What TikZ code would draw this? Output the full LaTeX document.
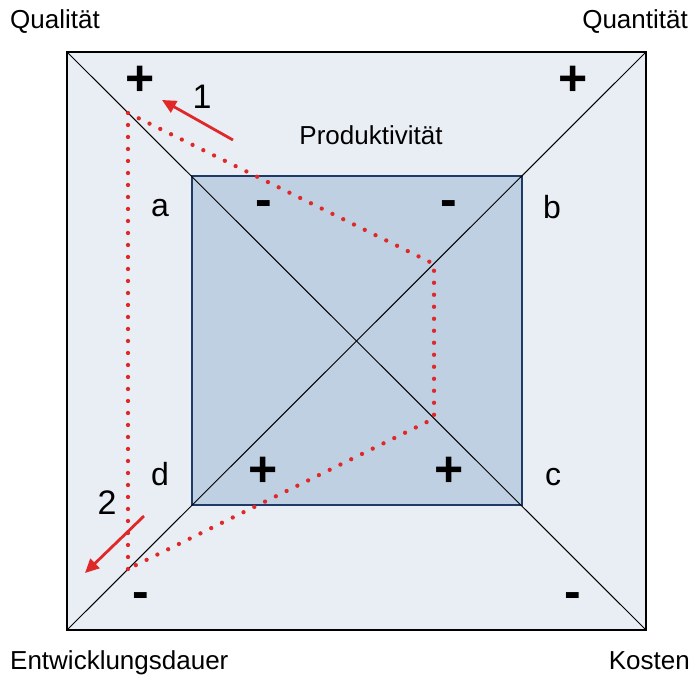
\documentclass[tikz,border=0pt]{standalone}
\usepackage{fontspec}
\setmainfont{Liberation Sans}
\usetikzlibrary{arrows.meta}
\definecolor{outerfill}{HTML}{E9EEF5}
\definecolor{innerfill}{HTML}{BFD0E2}
\definecolor{innerline}{HTML}{1F3A66}
\definecolor{redline}{HTML}{E02828}
\begin{document}
\begin{tikzpicture}[x=1pt,y=-1pt,
 lbl/.style={font=\fontsize{26}{30}\selectfont, inner sep=0pt},
 corner/.style={font=\fontsize{32}{36}\selectfont, inner sep=0pt},
 sign/.style={font=\bfseries\fontsize{50}{54}\selectfont, inner sep=0pt},
 num/.style={font=\fontsize{34}{38}\selectfont, inner sep=0pt},
 dotline/.style={draw=redline, line width=4.3pt, line cap=round, dash pattern=on 0pt off 12pt},
 redarrow/.style={draw=redline, line width=2.8pt, -{Triangle[length=14pt,width=13pt,fill=redline]}}]
\useasboundingbox (0,0) rectangle (698,677);
\fill[white] (0,0) rectangle (698,677);
% outer square corners
\coordinate (TL) at (67,52);
\coordinate (TR) at (646,52);
\coordinate (BR) at (646,630);
\coordinate (BL) at (67,630);
% inner square corners
\coordinate (ITL) at (192,176);
\coordinate (IBR) at (522,505);
\filldraw[fill=outerfill, draw=black, line width=2pt] (TL) rectangle (BR);
\filldraw[fill=innerfill, draw=innerline, line width=1.6pt] (ITL) rectangle (IBR);
\draw[line width=1pt] (TL) -- (BR);
\draw[line width=1pt] (TR) -- (BL);
% dotted path
\coordinate (P1) at (128,113);
\coordinate (P2) at (434,264);
\coordinate (P3) at (434,418.5);
\coordinate (P4) at (128,569);
\draw[dotline] (P4) -- (P1) -- (P2) -- (P3) -- cycle;
% red arrows
\coordinate (A1s) at (233,140);
\coordinate (A1e) at (162,100);
\coordinate (A2s) at (144,516);
\coordinate (A2e) at (85,573);
\draw[redarrow] (A1s) -- (A1e);
\draw[redarrow] (A2s) -- (A2e);
% labels
\node[lbl, anchor=base west] (qual) at (10,29) {Qualität};
\node[lbl, anchor=base east] (quant) at (688,29) {Quantität};
\node[lbl, anchor=base west] (entw) at (10,669) {Entwicklungsdauer};
\node[lbl, anchor=base east] (kost) at (690,669) {Kosten};
\node[lbl, anchor=base] (prod) at (371,144) {Produktivität};
\node[corner] (a) at (160,208) {a};
\node[corner] (b) at (552,207) {b};
\node[corner] (c) at (553,477) {c};
\node[corner] (d) at (160,474) {d};
\node[num] (n1) at (202,97) {1};
\node[num] (n2) at (107,503) {2};
\node[sign] (s1) at (140,81) {+};
\node[sign] (s2) at (573,81) {+};
\node[sign] (s3) at (141,601) {-};
\node[sign] (s4) at (573,601) {-};
\node[sign] (s5) at (264,209) {-};
\node[sign] (s6) at (449,209) {-};
\node[sign] (s7) at (263,472) {+};
\node[sign] (s8) at (449,472) {+};
\end{tikzpicture}
\end{document}
